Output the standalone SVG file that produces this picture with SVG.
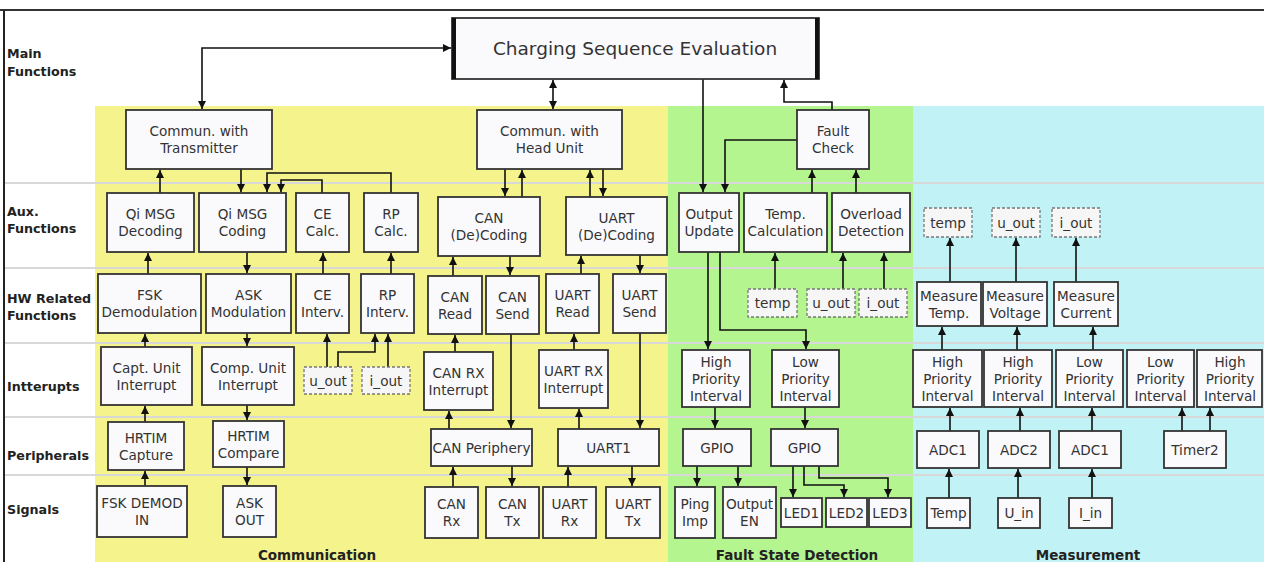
<svg xmlns="http://www.w3.org/2000/svg" width="1264" height="562" viewBox="0 0 1264 562">
<style>
.bx{fill:#fafafd;stroke:#333;stroke-width:1.8}
.ds{fill:#f6f6f6;stroke:#777;stroke-width:1.3;stroke-dasharray:3 2}
.t{font-family:"DejaVu Sans",Verdana,sans-serif;font-size:13.6px;fill:#333;text-anchor:middle;dominant-baseline:central}
.big{font-size:18.5px}
.rl{font-family:"DejaVu Sans",Verdana,sans-serif;font-size:12.7px;font-weight:bold;fill:#222}
.gl{font-family:"DejaVu Sans",Verdana,sans-serif;font-size:13.5px;font-weight:bold;fill:#222;text-anchor:middle}
.sep{stroke:#d8d8d8;stroke-width:2}
.c{fill:none;stroke:#111;stroke-width:1.6}
</style>
<defs>
<marker id="ah" viewBox="0 0 10 10" refX="10" refY="5" markerWidth="8" markerHeight="8" markerUnits="userSpaceOnUse" orient="auto-start-reverse">
<path d="M0,0 L10,5 L0,10 z" fill="#111"/>
</marker>
</defs>
<rect width="1264" height="562" fill="#fff"/>
<g id="backgrounds">
<rect x="95" y="106" width="573" height="456" fill="#f5f38b"/>
<rect x="668" y="106" width="245" height="456" fill="#b5f58f"/>
<rect x="913" y="106" width="351" height="456" fill="#c1f3f6"/>
</g>
<g id="frame">
<line x1="0" y1="10" x2="1264" y2="10" stroke="#333" stroke-width="2"/>
<line x1="4" y1="10" x2="4" y2="562" stroke="#222" stroke-width="2"/>
<line class="sep" x1="5" y1="183" x2="1264" y2="183"/>
<line class="sep" x1="5" y1="268" x2="1264" y2="268"/>
<line class="sep" x1="5" y1="343" x2="1264" y2="343"/>
<line class="sep" x1="5" y1="417" x2="1264" y2="417"/>
<line class="sep" x1="5" y1="475" x2="1264" y2="475"/>
</g>
<g id="row-labels">
<text class="rl" x="7" y="58">Main</text><text class="rl" x="7" y="76">Functions</text>
<text class="rl" x="7" y="216">Aux.</text><text class="rl" x="7" y="233">Functions</text>
<text class="rl" x="7" y="303">HW Related</text><text class="rl" x="7" y="320">Functions</text>
<text class="rl" x="7" y="391">Intterupts</text>
<text class="rl" x="7" y="460">Peripherals</text>
<text class="rl" x="7" y="514">Signals</text>
</g>
<g id="group-labels">
<text class="gl" x="317" y="560">Communication</text>
<text class="gl" x="797" y="560">Fault State Detection</text>
<text class="gl" x="1088" y="560">Measurement</text>
</g>
<g id="connectors">
<path class="c" d="M202,109 V48 H451" marker-start="url(#ah)" marker-end="url(#ah)"/>
<path class="c" d="M553,80 V109" marker-start="url(#ah)" marker-end="url(#ah)"/>
<path class="c" d="M703,79 V192" marker-end="url(#ah)"/>
<path class="c" d="M832,110 V102 H784 V80" marker-end="url(#ah)"/>
<path class="c" d="M797,140 H725 V192" marker-end="url(#ah)"/>
<path class="c" d="M812,193 V170" marker-end="url(#ah)"/>
<path class="c" d="M856,193 V170" marker-end="url(#ah)"/>
<path class="c" d="M160,193 V170" marker-end="url(#ah)"/>
<path class="c" d="M241,169 V192" marker-end="url(#ah)"/>
<path class="c" d="M391,193 V173 H267 V192" marker-end="url(#ah)"/>
<path class="c" d="M322,193 V180 H281 V192" marker-end="url(#ah)"/>
<path class="c" d="M148,274 V253" marker-end="url(#ah)"/>
<path class="c" d="M247,252 V273" marker-end="url(#ah)"/>
<path class="c" d="M323,274 V253" marker-end="url(#ah)"/>
<path class="c" d="M391,274 V253" marker-end="url(#ah)"/>
<path class="c" d="M145,347 V334" marker-end="url(#ah)"/>
<path class="c" d="M247,333 V346" marker-end="url(#ah)"/>
<path class="c" d="M327,367 V334" marker-end="url(#ah)"/>
<path class="c" d="M338,367 V352 H375 V334" marker-end="url(#ah)"/>
<path class="c" d="M388,367 V334" marker-end="url(#ah)"/>
<path class="c" d="M145,422 V406" marker-end="url(#ah)"/>
<path class="c" d="M247,405 V420" marker-end="url(#ah)"/>
<path class="c" d="M145,486 V471" marker-end="url(#ah)"/>
<path class="c" d="M247,467 V485" marker-end="url(#ah)"/>
<path class="c" d="M505,169 V196" marker-end="url(#ah)"/>
<path class="c" d="M522,197 V170" marker-end="url(#ah)"/>
<path class="c" d="M590,197 V170" marker-end="url(#ah)"/>
<path class="c" d="M603,169 V196" marker-end="url(#ah)"/>
<path class="c" d="M453,276 V257" marker-end="url(#ah)"/>
<path class="c" d="M510,256 V275" marker-end="url(#ah)"/>
<path class="c" d="M581,274 V256" marker-end="url(#ah)"/>
<path class="c" d="M640,255 V273" marker-end="url(#ah)"/>
<path class="c" d="M455,352 V335" marker-end="url(#ah)"/>
<path class="c" d="M574,350 V334" marker-end="url(#ah)"/>
<path class="c" d="M511,334 V428" marker-end="url(#ah)"/>
<path class="c" d="M640,333 V428" marker-end="url(#ah)"/>
<path class="c" d="M449,429 V411" marker-end="url(#ah)"/>
<path class="c" d="M579,429 V409" marker-end="url(#ah)"/>
<path class="c" d="M453,487 V467" marker-end="url(#ah)"/>
<path class="c" d="M512,466 V486" marker-end="url(#ah)"/>
<path class="c" d="M568,487 V467" marker-end="url(#ah)"/>
<path class="c" d="M632,466 V486" marker-end="url(#ah)"/>
<path class="c" d="M775,289 V253" marker-end="url(#ah)"/>
<path class="c" d="M843,289 V253" marker-end="url(#ah)"/>
<path class="c" d="M884,289 V253" marker-end="url(#ah)"/>
<path class="c" d="M708,252 V349" marker-end="url(#ah)"/>
<path class="c" d="M720,252 V330 H806 V349" marker-end="url(#ah)"/>
<path class="c" d="M715,407 V428" marker-end="url(#ah)"/>
<path class="c" d="M805,407 V428" marker-end="url(#ah)"/>
<path class="c" d="M697,466 V486" marker-end="url(#ah)"/>
<path class="c" d="M738,466 V486" marker-end="url(#ah)"/>
<path class="c" d="M793,466 V497" marker-end="url(#ah)"/>
<path class="c" d="M804,466 V485 H844 V497" marker-end="url(#ah)"/>
<path class="c" d="M819,466 V478 H888 V497" marker-end="url(#ah)"/>
<path class="c" d="M950,282 V238" marker-end="url(#ah)"/>
<path class="c" d="M1016,282 V238" marker-end="url(#ah)"/>
<path class="c" d="M1076,282 V238" marker-end="url(#ah)"/>
<path class="c" d="M942,350 V327" marker-end="url(#ah)"/>
<path class="c" d="M1017,350 V327" marker-end="url(#ah)"/>
<path class="c" d="M1093,350 V327" marker-end="url(#ah)"/>
<path class="c" d="M950,431 V408" marker-end="url(#ah)"/>
<path class="c" d="M1020,431 V408" marker-end="url(#ah)"/>
<path class="c" d="M1092,431 V408" marker-end="url(#ah)"/>
<path class="c" d="M1182,431 V408" marker-end="url(#ah)"/>
<path class="c" d="M1210,431 V408" marker-end="url(#ah)"/>
<path class="c" d="M949,498 V469" marker-end="url(#ah)"/>
<path class="c" d="M1018,498 V469" marker-end="url(#ah)"/>
<path class="c" d="M1092,498 V469" marker-end="url(#ah)"/>
</g>
<g id="n-cse"><rect class="bx" x="452" y="18" width="367" height="61"/><rect x="452" y="18" width="4" height="61" fill="#111"/><rect x="815" y="18" width="4" height="61" fill="#111"/><text class="t big" x="635" y="48">Charging Sequence Evaluation</text></g>
<g id="n-ctx"><rect class="bx" x="126" y="110" width="146" height="59"/><text class="t" x="199" y="131">Commun. with</text><text class="t" x="199" y="148">Transmitter</text></g>
<g id="n-chu"><rect class="bx" x="477" y="110" width="145" height="59"/><text class="t" x="549.5" y="131">Commun. with</text><text class="t" x="549.5" y="148">Head Unit</text></g>
<g id="n-fc"><rect class="bx" x="797" y="110" width="72" height="59"/><text class="t" x="833" y="131">Fault</text><text class="t" x="833" y="148">Check</text></g>
<g id="n-qidec"><rect class="bx" x="107" y="193" width="87" height="59"/><text class="t" x="150.5" y="214">Qi MSG</text><text class="t" x="150.5" y="231">Decoding</text></g>
<g id="n-qicod"><rect class="bx" x="199" y="193" width="87" height="59"/><text class="t" x="242.5" y="214">Qi MSG</text><text class="t" x="242.5" y="231">Coding</text></g>
<g id="n-cecalc"><rect class="bx" x="296" y="193" width="53" height="59"/><text class="t" x="322.5" y="214">CE</text><text class="t" x="322.5" y="231">Calc.</text></g>
<g id="n-rpcalc"><rect class="bx" x="364" y="193" width="54" height="59"/><text class="t" x="391" y="214">RP</text><text class="t" x="391" y="231">Calc.</text></g>
<g id="n-candec"><rect class="bx" x="438" y="197" width="102" height="59"/><text class="t" x="489" y="218">CAN</text><text class="t" x="489" y="235">(De)Coding</text></g>
<g id="n-uartdec"><rect class="bx" x="566" y="197" width="101" height="58"/><text class="t" x="616.5" y="218">UART</text><text class="t" x="616.5" y="235">(De)Coding</text></g>
<g id="n-outupd"><rect class="bx" x="679" y="193" width="60" height="59"/><text class="t" x="709" y="214">Output</text><text class="t" x="709" y="231">Update</text></g>
<g id="n-tempcalc"><rect class="bx" x="744" y="193" width="83" height="59"/><text class="t" x="785.5" y="214">Temp.</text><text class="t" x="785.5" y="231">Calculation</text></g>
<g id="n-overload"><rect class="bx" x="832" y="193" width="78" height="59"/><text class="t" x="871" y="214">Overload</text><text class="t" x="871" y="231">Detection</text></g>
<g id="n-m-temp"><rect class="ds" x="924" y="208" width="48" height="29"/><text class="t" x="948" y="222.5">temp</text></g>
<g id="n-m-uout"><rect class="ds" x="992" y="208" width="48" height="29"/><text class="t" x="1016" y="222.5">u_out</text></g>
<g id="n-m-iout"><rect class="ds" x="1052" y="208" width="48" height="29"/><text class="t" x="1076" y="222.5">i_out</text></g>
<g id="n-fsk"><rect class="bx" x="98" y="274" width="103" height="59"/><text class="t" x="149.5" y="295">FSK</text><text class="t" x="149.5" y="312">Demodulation</text></g>
<g id="n-ask"><rect class="bx" x="206" y="274" width="85" height="59"/><text class="t" x="248.5" y="295">ASK</text><text class="t" x="248.5" y="312">Modulation</text></g>
<g id="n-ceint"><rect class="bx" x="296" y="274" width="53" height="59"/><text class="t" x="322.5" y="295">CE</text><text class="t" x="322.5" y="312">Interv.</text></g>
<g id="n-rpint"><rect class="bx" x="361" y="274" width="53" height="59"/><text class="t" x="387.5" y="295">RP</text><text class="t" x="387.5" y="312">Interv.</text></g>
<g id="n-canread"><rect class="bx" x="428" y="276" width="54" height="58"/><text class="t" x="455" y="296.5">CAN</text><text class="t" x="455" y="313.5">Read</text></g>
<g id="n-cansend"><rect class="bx" x="486" y="276" width="53" height="58"/><text class="t" x="512.5" y="296.5">CAN</text><text class="t" x="512.5" y="313.5">Send</text></g>
<g id="n-uartread"><rect class="bx" x="546" y="274" width="53" height="59"/><text class="t" x="572.5" y="295">UART</text><text class="t" x="572.5" y="312">Read</text></g>
<g id="n-uartsend"><rect class="bx" x="613" y="274" width="53" height="59"/><text class="t" x="639.5" y="295">UART</text><text class="t" x="639.5" y="312">Send</text></g>
<g id="n-f-temp"><rect class="ds" x="748" y="289" width="49" height="28"/><text class="t" x="772.5" y="303">temp</text></g>
<g id="n-f-uout"><rect class="ds" x="807" y="289" width="48" height="28"/><text class="t" x="831" y="303">u_out</text></g>
<g id="n-f-iout"><rect class="ds" x="859" y="289" width="48" height="28"/><text class="t" x="883" y="303">i_out</text></g>
<g id="n-meastemp"><rect class="bx" x="917" y="282" width="64" height="44"/><text class="t" x="949" y="295.5">Measure</text><text class="t" x="949" y="312.5">Temp.</text></g>
<g id="n-measvolt"><rect class="bx" x="983" y="282" width="64" height="44"/><text class="t" x="1015" y="295.5">Measure</text><text class="t" x="1015" y="312.5">Voltage</text></g>
<g id="n-meascurr"><rect class="bx" x="1054" y="282" width="64" height="44"/><text class="t" x="1086" y="295.5">Measure</text><text class="t" x="1086" y="312.5">Current</text></g>
<g id="n-captint"><rect class="bx" x="101" y="347" width="91" height="58"/><text class="t" x="146.5" y="367.5">Capt. Unit</text><text class="t" x="146.5" y="384.5">Interrupt</text></g>
<g id="n-compint"><rect class="bx" x="202" y="347" width="92" height="58"/><text class="t" x="248" y="367.5">Comp. Unit</text><text class="t" x="248" y="384.5">Interrupt</text></g>
<g id="n-c-uout"><rect class="ds" x="304" y="367" width="48" height="27"/><text class="t" x="328" y="380.5">u_out</text></g>
<g id="n-c-iout"><rect class="ds" x="362" y="367" width="48" height="27"/><text class="t" x="386" y="380.5">i_out</text></g>
<g id="n-canrxint"><rect class="bx" x="424" y="352" width="69" height="58"/><text class="t" x="458.5" y="372.5">CAN RX</text><text class="t" x="458.5" y="389.5">Interrupt</text></g>
<g id="n-uartrxint"><rect class="bx" x="539" y="350" width="69" height="58"/><text class="t" x="573.5" y="370.5">UART RX</text><text class="t" x="573.5" y="387.5">Interrupt</text></g>
<g id="n-f-hpi"><rect class="bx" x="682" y="350" width="68" height="57"/><text class="t" x="716" y="362">High</text><text class="t" x="716" y="379">Priority</text><text class="t" x="716" y="396">Interval</text></g>
<g id="n-f-lpi"><rect class="bx" x="772" y="350" width="67" height="57"/><text class="t" x="805.5" y="362">Low</text><text class="t" x="805.5" y="379">Priority</text><text class="t" x="805.5" y="396">Interval</text></g>
<g id="n-m-hpi1"><rect class="bx" x="913" y="350" width="69" height="57"/><text class="t" x="947.5" y="362">High</text><text class="t" x="947.5" y="379">Priority</text><text class="t" x="947.5" y="396">Interval</text></g>
<g id="n-m-hpi2"><rect class="bx" x="984" y="350" width="68" height="57"/><text class="t" x="1018" y="362">High</text><text class="t" x="1018" y="379">Priority</text><text class="t" x="1018" y="396">Interval</text></g>
<g id="n-m-lpi1"><rect class="bx" x="1056" y="350" width="67" height="57"/><text class="t" x="1089.5" y="362">Low</text><text class="t" x="1089.5" y="379">Priority</text><text class="t" x="1089.5" y="396">Interval</text></g>
<g id="n-m-lpi2"><rect class="bx" x="1127" y="350" width="67" height="57"/><text class="t" x="1160.5" y="362">Low</text><text class="t" x="1160.5" y="379">Priority</text><text class="t" x="1160.5" y="396">Interval</text></g>
<g id="n-m-hpi3"><rect class="bx" x="1197" y="350" width="65" height="57"/><text class="t" x="1230" y="362">High</text><text class="t" x="1230" y="379">Priority</text><text class="t" x="1230" y="396">Interval</text></g>
<g id="n-hrcap"><rect class="bx" x="108" y="422" width="76" height="48"/><text class="t" x="146" y="437.5">HRTIM</text><text class="t" x="146" y="454.5">Capture</text></g>
<g id="n-hrcmp"><rect class="bx" x="213" y="421" width="71" height="46"/><text class="t" x="248.5" y="435.5">HRTIM</text><text class="t" x="248.5" y="452.5">Compare</text></g>
<g id="n-canper"><rect class="bx" x="431" y="429" width="101" height="37"/><text class="t" x="481.5" y="447.5">CAN Periphery</text></g>
<g id="n-uart1"><rect class="bx" x="558" y="429" width="101" height="37"/><text class="t" x="608.5" y="447.5">UART1</text></g>
<g id="n-gpio1"><rect class="bx" x="683" y="429" width="68" height="37"/><text class="t" x="717" y="447.5">GPIO</text></g>
<g id="n-gpio2"><rect class="bx" x="771" y="429" width="67" height="37"/><text class="t" x="804.5" y="447.5">GPIO</text></g>
<g id="n-adc1a"><rect class="bx" x="917" y="431" width="62" height="37"/><text class="t" x="948" y="449.5">ADC1</text></g>
<g id="n-adc2"><rect class="bx" x="988" y="431" width="62" height="37"/><text class="t" x="1019" y="449.5">ADC2</text></g>
<g id="n-adc1b"><rect class="bx" x="1059" y="431" width="62" height="37"/><text class="t" x="1090" y="449.5">ADC1</text></g>
<g id="n-timer2"><rect class="bx" x="1164" y="431" width="62" height="37"/><text class="t" x="1195" y="449.5">Timer2</text></g>
<g id="n-fskin"><rect class="bx" x="97" y="486" width="90" height="51"/><text class="t" x="142" y="503">FSK DEMOD</text><text class="t" x="142" y="520">IN</text></g>
<g id="n-askout"><rect class="bx" x="223" y="486" width="53" height="51"/><text class="t" x="249.5" y="503">ASK</text><text class="t" x="249.5" y="520">OUT</text></g>
<g id="n-canrx"><rect class="bx" x="425" y="487" width="53" height="51"/><text class="t" x="451.5" y="504">CAN</text><text class="t" x="451.5" y="521">Rx</text></g>
<g id="n-cantx"><rect class="bx" x="486" y="487" width="53" height="51"/><text class="t" x="512.5" y="504">CAN</text><text class="t" x="512.5" y="521">Tx</text></g>
<g id="n-uartrx"><rect class="bx" x="543" y="487" width="53" height="51"/><text class="t" x="569.5" y="504">UART</text><text class="t" x="569.5" y="521">Rx</text></g>
<g id="n-uarttx"><rect class="bx" x="606" y="487" width="54" height="51"/><text class="t" x="633" y="504">UART</text><text class="t" x="633" y="521">Tx</text></g>
<g id="n-ping"><rect class="bx" x="675" y="487" width="40" height="51"/><text class="t" x="695" y="504">Ping</text><text class="t" x="695" y="521">Imp</text></g>
<g id="n-outen"><rect class="bx" x="723" y="487" width="53" height="51"/><text class="t" x="749.5" y="504">Output</text><text class="t" x="749.5" y="521">EN</text></g>
<g id="n-led1"><rect class="bx" x="781" y="498" width="41" height="29"/><text class="t" x="801.5" y="513">LED1</text></g>
<g id="n-led2"><rect class="bx" x="826" y="498" width="41" height="29"/><text class="t" x="846.5" y="513">LED2</text></g>
<g id="n-led3"><rect class="bx" x="869" y="498" width="42" height="29"/><text class="t" x="890" y="513">LED3</text></g>
<g id="n-temp"><rect class="bx" x="927" y="498" width="43" height="30"/><text class="t" x="948.5" y="513">Temp</text></g>
<g id="n-uin"><rect class="bx" x="998" y="498" width="42" height="30"/><text class="t" x="1019" y="513">U_in</text></g>
<g id="n-iin"><rect class="bx" x="1069" y="498" width="43" height="30"/><text class="t" x="1090.5" y="513">I_in</text></g>
</svg>
